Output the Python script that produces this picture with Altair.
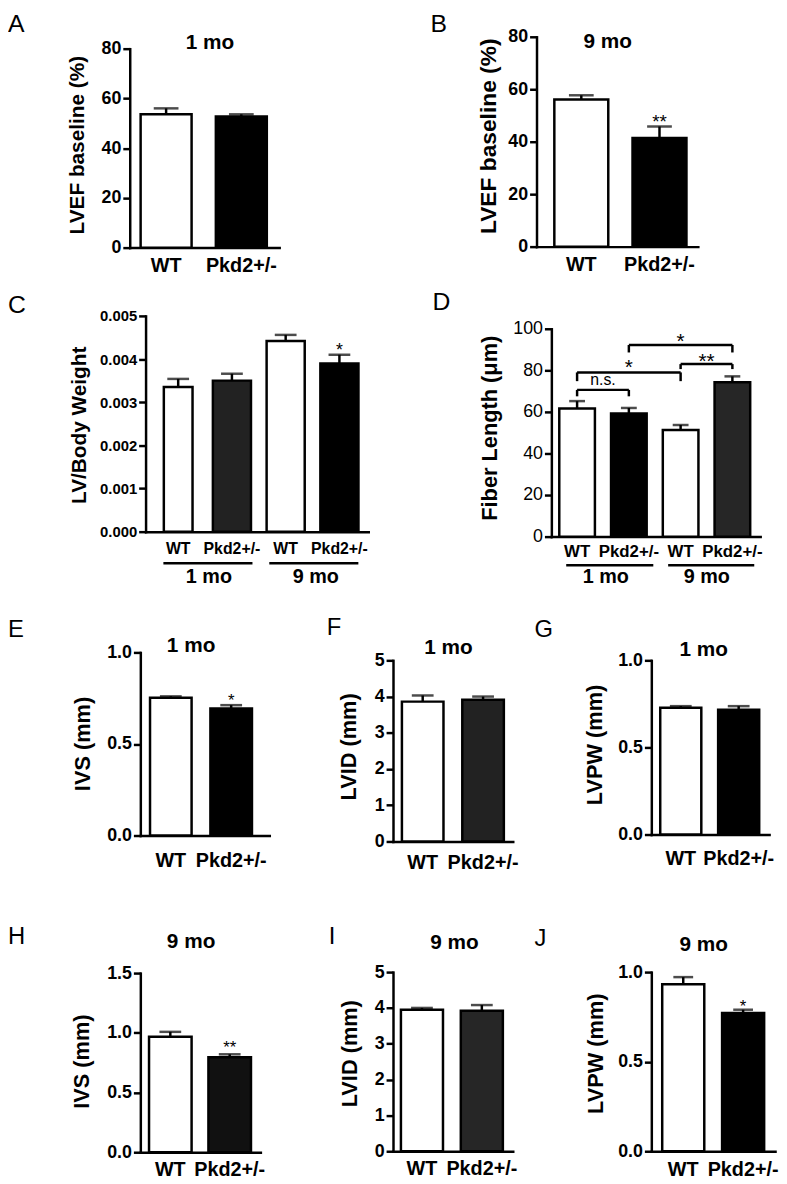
import altair as alt
import pandas as pd

FONT = "Liberation Sans"

# ---------------- data ----------------
A_groups = ["WT", "Pkd2+/-"]
A_mean = [53.6, 52.7]
A_sem = [2.4, 0.9]
A_ticks = [0, 20, 40, 60, 80]

B_groups = ["WT", "Pkd2+/-"]
B_mean = [56.1, 41.4]
B_sem = [1.6, 4.4]
B_ticks = [0, 20, 40, 60, 80]
B_star_group = ["Pkd2+/-"]
B_star_text = ["**"]
B_star_y = [49.4]

C_groups = ["WT|1 mo", "Pkd2+/-|1 mo", "WT|9 mo", "Pkd2+/-|9 mo"]
C_mean = [0.00335, 0.00350, 0.00442, 0.00390]
C_sem = [0.00019, 0.00016, 0.00014, 0.00020]
C_ticks = [0.000, 0.001, 0.002, 0.003, 0.004, 0.005]
C_star_group = ["Pkd2+/-|9 mo"]
C_star_text = ["*"]
C_star_y = [0.00432]

D_groups = ["WT|1 mo", "Pkd2+/-|1 mo", "WT|9 mo", "Pkd2+/-|9 mo"]
D_mean = [61.6, 59.2, 51.3, 74.3]
D_sem = [3.6, 2.7, 2.4, 2.8]
D_ticks = [0, 20, 40, 60, 80, 100]
D_br_from = ["WT|1 mo", "WT|1 mo", "WT|9 mo", "Pkd2+/-|1 mo"]
D_br_to = ["Pkd2+/-|1 mo", "WT|9 mo", "Pkd2+/-|9 mo", "Pkd2+/-|9 mo"]
D_br_y = [70.6, 79.0, 83.0, 92.2]
D_br_foot = [67.5, 74.8, 80.6, 88.6]
D_br_text = ["n.s.", "*", "**", "*"]
D_br_text_y = [74.8, 83.8, 86.7, 96.7]

E_groups = ["WT", "Pkd2+/-"]
E_mean = [0.753, 0.694]
E_sem = [0.007, 0.018]
E_ticks = [0.0, 0.5, 1.0]
E_star_group = ["Pkd2+/-"]
E_star_text = ["*"]
E_star_y = [0.762]

F_groups = ["WT", "Pkd2+/-"]
F_mean = [3.86, 3.91]
F_sem = [0.17, 0.09]
F_ticks = [0, 1, 2, 3, 4, 5]

G_groups = ["WT", "Pkd2+/-"]
G_mean = [0.728, 0.716]
G_sem = [0.009, 0.021]
G_ticks = [0.0, 0.5, 1.0]

H_groups = ["WT", "Pkd2+/-"]
H_mean = [0.967, 0.796]
H_sem = [0.041, 0.024]
H_ticks = [0.0, 0.5, 1.0, 1.5]
H_star_group = ["Pkd2+/-"]
H_star_text = ["**"]
H_star_y = [0.912]

I_groups = ["WT", "Pkd2+/-"]
I_mean = [3.95, 3.92]
I_sem = [0.05, 0.16]
I_ticks = [0, 1, 2, 3, 4, 5]

J_groups = ["WT", "Pkd2+/-"]
J_mean = [0.932, 0.772]
J_sem = [0.040, 0.018]
J_ticks = [0.0, 0.5, 1.0]
J_star_group = ["Pkd2+/-"]
J_star_text = ["*"]
J_star_y = [0.834]

# ---------------- layout & style ----------------
W_CH, H_CH = 779, 1176

LAYOUT = {
    "A": dict(x0=123, x1=274, first=11, step=76, bw=51.5, yb=236, yt=35, cap=25,
              fills=["white", "black"], yl=18, ylw="bold", xl=20, xlp=8.5, yts=21, tx=70, ty=132),
    "B": dict(x0=534, x1=697, first=18, step=79, bw=54.5, yb=235, yt=23, cap=25,
              fills=["white", "black"], yl=18, ylw="bold", xl=20, xlp=8, yts=23, tx=486, ty=123),
    "C": dict(x0=139, x1=364, first=13.7, step=54.3, bw=38.5, yb=523, yt=305, cap=22,
              fills=["white", "#222222", "white", "black"], yl=15, ylw="bold", xl=16, xlp=9.5, yts=21, tx=72, ty=415),
    "D": dict(x0=549, x1=760, first=8, step=52.3, bw=36, yb=528, yt=318, cap=16,
              fills=["white", "black", "white", "#262626"], yl=18, ylw="normal", xl=17, xlp=7.5, yts=22, tx=487, ty=418),
    "E": dict(x0=133.7, x1=264, first=9.8, step=61, bw=42, yb=830, yt=645, cap=22,
              fills=["white", "black"], yl=18, ylw="bold", xl=20, xlp=15, yts=22, tx=75, ty=737),
    "F": dict(x0=389, x1=510, first=9, step=61, bw=42, yb=836, yt=653, cap=22,
              fills=["white", "#222222"], yl=18, ylw="bold", xl=20, xlp=11, yts=22, tx=344, ty=740),
    "G": dict(x0=650, x1=769, first=9, step=58.5, bw=41.5, yb=829, yt=653, cap=22,
              fills=["white", "black"], yl=18, ylw="bold", xl=20, xlp=14, yts=22, tx=593, ty=738),
    "H": dict(x0=133.7, x1=255, first=8.8, step=60, bw=43, yb=1150, yt=969, cap=22,
              fills=["white", "#111111"], yl=18, ylw="bold", xl=20, xlp=8, yts=22, tx=74, ty=1058),
    "I": dict(x0=389, x1=510, first=8, step=60.5, bw=42.5, yb=1149, yt=968, cap=22,
              fills=["white", "#262626"], yl=18, ylw="bold", xl=20, xlp=8, yts=22, tx=345, ty=1050),
    "J": dict(x0=650, x1=775, first=11, step=60.5, bw=42.5, yb=1149, yt=968, cap=20,
              fills=["white", "black"], yl=18, ylw="bold", xl=20, xlp=9, yts=22, tx=594, ty=1050),
}


def band_scale(L, groups):
    n = len(groups)
    W = L["x1"] - L["x0"]
    pin = 1 - L["bw"] / L["step"]
    outer = W - L["step"] * (n - pin)
    return alt.Scale(type="band", domain=groups, range=[L["x0"], L["x1"]],
                     paddingInner=pin, paddingOuter=outer / (2 * L["step"]),
                     align=L["first"] / outer)


def band_center(L, i):
    return L["x0"] + L["first"] + L["step"] * i + L["bw"] / 2


def panel(key, groups, mean, sem, ticks, fmt, ytitle, stars=None, star_size=16,
          narrow_first=None, extra=None):
    L = LAYOUT[key]
    df = pd.DataFrame({"g": groups, "v": mean,
                       "top": [m + s for m, s in zip(mean, sem)]})
    dom = [ticks[0], ticks[-1]]
    xaxis = alt.Axis(title=None, orient="bottom", offset=L["yb"] - H_CH, ticks=False,
                     tickSize=0, labelAngle=0, labelFont=FONT, labelFontSize=L["xl"],
                     labelFontWeight="bold", labelPadding=L["xlp"], labelColor="black",
                     labelExpr="split(datum.label, '|')[0]", domainWidth=2.5,
                     domainColor="black", domainCap="square", labelOverlap=False)
    yaxis = alt.Axis(title=ytitle, orient="left", offset=-L["x0"], values=ticks, format=fmt,
                     tickSize=7, tickWidth=2.5, tickColor="black", domainWidth=2.5,
                     domainColor="black", domainCap="square", labelFont=FONT,
                     labelFontSize=L["yl"], labelFontWeight=L["ylw"], labelPadding=2,
                     labelColor="black", labelOverlap=False, titleFont=FONT,
                     titleFontSize=L["yts"], titleFontWeight="bold", titleColor="black",
                     titleX=L["tx"] - L["x0"], titleY=L["ty"], titleBaseline="middle",
                     grid=False)
    xscale = band_scale(L, groups)
    yscale = alt.Scale(domain=dom, range=[L["yb"], L["yt"]], nice=False, zero=False)

    def X(field="g"):
        return alt.X(f"{field}:N", scale=xscale, axis=xaxis, sort=None)

    def Y(field="v"):
        return alt.Y(f"{field}:Q", scale=yscale, axis=yaxis)

    fill = alt.Fill("g:N", scale=alt.Scale(domain=groups, range=L["fills"]), legend=None)

    layers = []
    if narrow_first is None:
        layers.append(alt.Chart(df).mark_bar(stroke="black", strokeWidth=2.5)
                      .encode(x=X(), y=Y(), fill=fill))
    else:
        layers.append(alt.Chart(df).transform_filter(alt.datum.g != groups[0])
                      .mark_bar(stroke="black", strokeWidth=2.5)
                      .encode(x=X(), y=Y(), fill=fill))
        layers.append(alt.Chart(df).transform_filter(alt.datum.g == groups[0])
                      .mark_bar(stroke="black", strokeWidth=2.5, width=narrow_first)
                      .encode(x=X(), y=Y(), fill=fill))
    layers.append(alt.Chart(df).mark_rule(color="black", strokeWidth=2.5)
                  .encode(x=X(), y=Y(), y2="top:Q"))
    layers.append(alt.Chart(df).mark_tick(color="black", thickness=2.5, size=L["cap"])
                  .encode(x=X(), y=Y("top")))
    if stars is not None:
        sg, st, sy = stars
        sdf = pd.DataFrame({"g": sg, "t": st, "v": sy})
        layers.append(alt.Chart(sdf).mark_text(font=FONT, fontSize=star_size,
                                               baseline="alphabetic", dy=0.58 * star_size,
                                               color="black")
                      .encode(x=X(), y=Y(), text="t:N"))
    if extra is not None:
        layers.extend(extra(X, Y, L))
    return alt.layer(*layers)


def d_brackets(X, Y, L):
    out = []
    br = pd.DataFrame({"a": D_br_from, "b": D_br_to, "y": D_br_y, "f": D_br_foot})
    legs = pd.DataFrame({"a": D_br_from + D_br_to, "y": D_br_y + D_br_y,
                         "f": D_br_foot + D_br_foot})
    out.append(alt.Chart(br).mark_rule(color="black", strokeWidth=2.5)
               .encode(x=X("a"), x2="b:N", y=Y("y")))
    out.append(alt.Chart(legs).mark_rule(color="black", strokeWidth=2.5)
               .encode(x=X("a"), y=Y("y"), y2="f:Q"))
    for a, b, t, ty in zip(D_br_from, D_br_to, D_br_text, D_br_text_y):
        fs = 16 if t == "n.s." else 21
        shift = 0.26 * fs if t == "n.s." else 0.58 * fs
        xm = (band_center(L, D_groups.index(a)) + band_center(L, D_groups.index(b))) / 2
        out.append(alt.Chart(pd.DataFrame({"t": [t], "v": [ty]}))
                   .mark_text(font=FONT, fontSize=fs, baseline="alphabetic", dy=shift,
                              color="black")
                   .encode(x=alt.value(xm), y=Y(), text="t:N"))
    return out


def text_at(text, x, y, size, weight="normal", align="left"):
    return (alt.Chart(pd.DataFrame({"t": [text]}))
            .mark_text(font=FONT, fontSize=size, fontWeight=weight, align=align,
                       baseline="alphabetic", color="black")
            .encode(x=alt.value(x), y=alt.value(y), text="t:N"))


def hline(x1, x2, y):
    return (alt.Chart(pd.DataFrame({"a": [0]}))
            .mark_rule(color="black", strokeWidth=2.5)
            .encode(x=alt.value(x1), x2=alt.value(x2), y=alt.value(y)))


panels = [
    panel("A", A_groups, A_mean, A_sem, A_ticks, "d", "LVEF baseline (%)"),
    panel("B", B_groups, B_mean, B_sem, B_ticks, "d", "LVEF baseline (%)",
          stars=(B_star_group, B_star_text, B_star_y), star_size=19),
    panel("C", C_groups, C_mean, C_sem, C_ticks, ".3f", "LV/Body Weight",
          stars=(C_star_group, C_star_text, C_star_y), star_size=18, narrow_first=29),
    panel("D", D_groups, D_mean, D_sem, D_ticks, "d", "Fiber Length (\u03bcm)",
          extra=d_brackets),
    panel("E", E_groups, E_mean, E_sem, E_ticks, ".1f", "IVS (mm)",
          stars=(E_star_group, E_star_text, E_star_y), star_size=17),
    panel("F", F_groups, F_mean, F_sem, F_ticks, "d", "LVID (mm)"),
    panel("G", G_groups, G_mean, G_sem, G_ticks, ".1f", "LVPW (mm)"),
    panel("H", H_groups, H_mean, H_sem, H_ticks, ".1f", "IVS (mm)",
          stars=(H_star_group, H_star_text, H_star_y), star_size=17),
    panel("I", I_groups, I_mean, I_sem, I_ticks, "d", "LVID (mm)"),
    panel("J", J_groups, J_mean, J_sem, J_ticks, ".1f", "LVPW (mm)",
          stars=(J_star_group, J_star_text, J_star_y), star_size=17),
]

annot = [
    text_at("A", 0, 18, 25), text_at("B", 427, 18, 25),
    text_at("C", 0, 302, 25), text_at("D", 429, 299, 25),
    text_at("E", 0, 629, 24), text_at("F", 322, 627, 24), text_at("G", 532, 629, 24),
    text_at("H", 0, 940, 24), text_at("I", 324, 940, 24), text_at("J", 532, 942, 24),
    text_at("1 mo", 204, 35, 21, "bold", "center"),
    text_at("9 mo", 606, 34, 21, "bold", "center"),
    text_at("1 mo", 185, 645, 21, "bold", "center"),
    text_at("1 mo", 445, 647, 21, "bold", "center"),
    text_at("1 mo", 703, 649, 21, "bold", "center"),
    text_at("9 mo", 185, 944, 21, "bold", "center"),
    text_at("9 mo", 451, 945, 21, "bold", "center"),
    text_at("9 mo", 703, 947, 21, "bold", "center"),
    hline(157, 247, 555), hline(264, 354, 555),
    text_at("1 mo", 203, 575, 20, "bold", "center"),
    text_at("9 mo", 311, 575, 20, "bold", "center"),
    hline(564, 652, 557), hline(667, 754, 557),
    text_at("1 mo", 604, 575, 20, "bold", "center"),
    text_at("9 mo", 706, 575, 20, "bold", "center"),
]

chart = (
    alt.layer(*panels, *annot)
    .resolve_scale(x="independent", y="independent", fill="independent")
    .resolve_axis(x="independent", y="independent")
    .properties(width=W_CH, height=H_CH, padding=0,
                autosize=alt.AutoSizeParams(type="none"))
    .configure_view(stroke=None)
    .configure_axis(grid=False)
)

chart.save("out.html", embed_options={"renderer": "svg", "actions": False})
